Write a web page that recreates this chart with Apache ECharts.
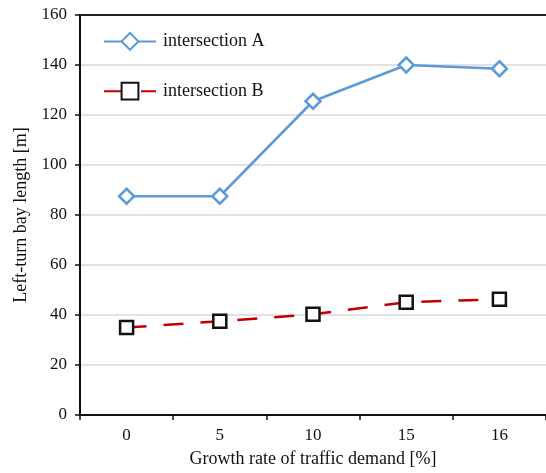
<!DOCTYPE html>
<html>
<head>
<meta charset="utf-8">
<script src="https://cdn.jsdelivr.net/npm/echarts@6/dist/echarts.min.js"></script>
<style>
  html, body { margin: 0; padding: 0; background: #fff; }
  #chart { width: 546px; height: 473px; }
</style>
</head>
<body>
<div id="chart"></div>
<script>
// Growth rate categories and bay lengths per intersection
const growthRates = ['0', '5', '10', '15', '16'];
const intersectionA = [87.5, 87.5, 125.5, 140, 138.5];
const intersectionB = [35, 37.5, 40.3, 45.1, 46.3];
const yTicks = { min: 0, max: 160, interval: 20 };

const FONT = 'Liberation Serif';
const chart = echarts.init(document.getElementById('chart'), null, { renderer: 'canvas' });

chart.setOption({
  animation: false,
  backgroundColor: '#ffffff',
  textStyle: { fontFamily: FONT },
  grid: { left: 80, top: 15, width: 470, height: 404, containLabel: false },
  legend: {
    orient: 'vertical',
    left: 98,
    top: 27,
    itemWidth: 52,
    itemHeight: 21,
    itemGap: 31,
    textStyle: { fontFamily: FONT, fontSize: 18, color: '#111', padding: [0, 0, 0, 2] },
    data: ['intersection A', 'intersection B']
  },
  xAxis: [{
    type: 'category',
    data: growthRates,
    boundaryGap: true,
    name: 'Growth rate of traffic demand [%]',
    nameLocation: 'middle',
    nameGap: 35,
    nameTextStyle: { fontFamily: FONT, fontSize: 18, color: '#111' },
    axisLine: { lineStyle: { color: '#111', width: 2 } },
    axisTick: { show: true, length: 5, lineStyle: { color: '#111', width: 1.5 } },
    axisLabel: { fontFamily: FONT, fontSize: 17, color: '#111', margin: 12 },
    splitLine: { show: false }
  }, {
    type: 'category',
    data: growthRates,
    position: 'top',
    axisLine: { show: true, lineStyle: { color: '#222', width: 2 } },
    axisTick: { show: false },
    axisLabel: { show: false },
    splitLine: { show: false }
  }],
  yAxis: {
    type: 'value',
    min: yTicks.min,
    max: yTicks.max,
    interval: yTicks.interval,
    name: 'Left-turn bay length [m]',
    nameLocation: 'middle',
    nameGap: 49,
    nameTextStyle: { fontFamily: FONT, fontSize: 18, color: '#111' },
    axisLine: { show: true, lineStyle: { color: '#111', width: 2 } },
    axisTick: { show: true, length: 5, lineStyle: { color: '#111', width: 1.5 } },
    axisLabel: { fontFamily: FONT, fontSize: 17, color: '#111', margin: 13 },
    splitLine: { show: true, lineStyle: { color: '#d9d9d9', width: 1.5 } }
  },
  series: [{
    name: 'intersection A',
    type: 'line',
    data: intersectionA,
    symbol: 'diamond',
    symbolSize: 15,
    itemStyle: { color: '#ffffff', borderColor: '#5b9bd5', borderWidth: 2.5 },
    lineStyle: { color: '#5b9bd5', width: 2.5 },
    z: 3
  }, {
    name: 'intersection B',
    type: 'line',
    data: intersectionB,
    symbol: 'rect',
    symbolSize: 13,
    itemStyle: { color: '#ffffff', borderColor: '#111111', borderWidth: 2.5 },
    lineStyle: { color: '#c00000', width: 2.5, type: [20, 17] },
    z: 3
  }]
});
</script>
</body>
</html>
